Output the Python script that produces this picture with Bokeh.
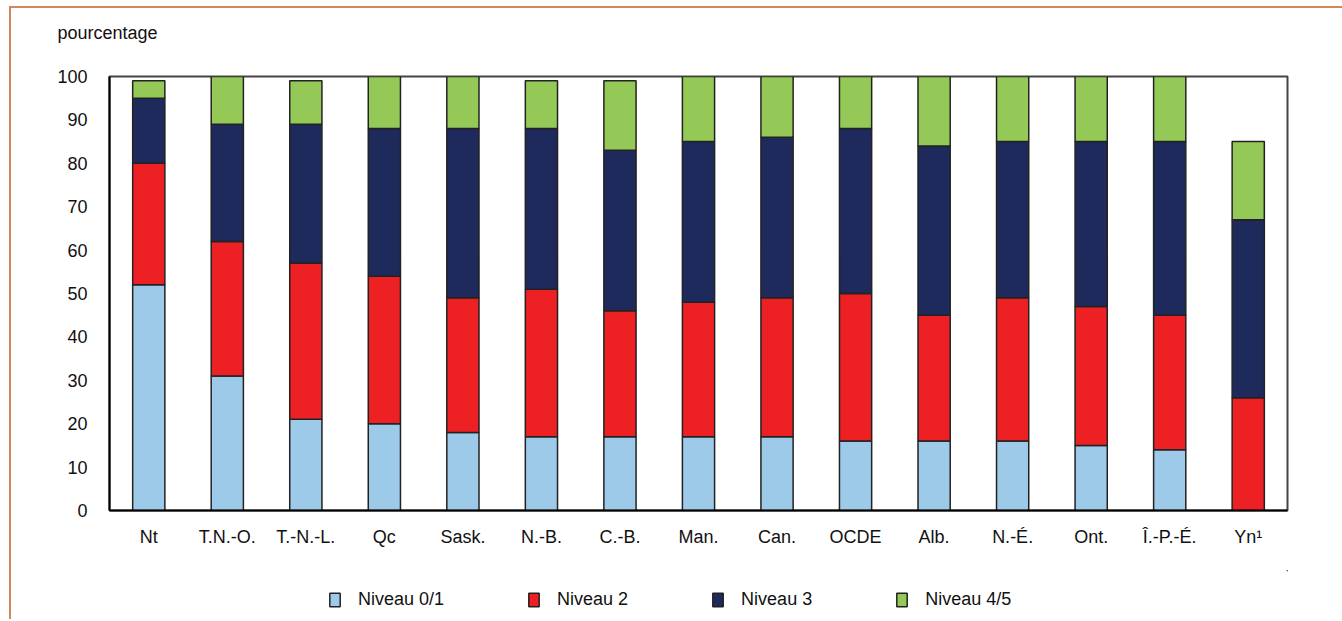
from bokeh.plotting import figure
from bokeh.models import ColumnDataSource, Legend, LegendItem, FactorRange, Range1d, Title
from bokeh.layouts import column
from bokeh.embed import file_html
from bokeh.resources import INLINE

categories = ["Nt", "T.N.-O.", "T.-N.-L.", "Qc", "Sask.", "N.-B.", "C.-B.", "Man.",
              "Can.", "OCDE", "Alb.", "N.-É.", "Ont.", "Î.-P.-É.", "Yn¹"]
niveau_0_1 = [52, 31, 21, 20, 18, 17, 17, 17, 17, 16, 16, 16, 15, 14, 0]
niveau_2 = [28, 31, 36, 34, 31, 34, 29, 31, 32, 34, 29, 33, 32, 31, 26]
niveau_3 = [15, 27, 32, 34, 39, 37, 37, 37, 37, 38, 39, 36, 38, 40, 41]
niveau_4_5 = [4, 11, 10, 12, 12, 11, 16, 15, 14, 12, 16, 15, 15, 15, 18]

series = ["n01", "n2", "n3", "n45"]
labels = ["Niveau 0/1", "Niveau 2", "Niveau 3", "Niveau 4/5"]
colors = ["#9ECAE9", "#ED2024", "#1F2A5C", "#94C957"]

FONT = "Liberation Sans"
W = 1331

source = ColumnDataSource(dict(cat=categories, n01=niveau_0_1, n2=niveau_2,
                               n3=niveau_3, n45=niveau_4_5))

p = figure(x_range=FactorRange(*categories, range_padding=0), y_range=(0, 100),
           width=W, height=562, output_backend="svg", toolbar_location=None,
           min_border_left=98, min_border_right=55, min_border_top=68,
           min_border_bottom=60, title="pourcentage")

p.vbar_stack(series, x="cat", width=0.41, source=source, color=colors,
             line_color="#222222", line_width=1.5)

p.title.text_font = FONT
p.title.text_font_size = "18px"
p.title.text_font_style = "normal"
p.title.text_color = "#111111"
p.title.align = "left"
p.title.vertical_align = "top"
p.title.offset = -52
p.title.standoff = 0

# empty spacer between the title and the frame
p.add_layout(Title(text=" ", text_font_size="1px", standoff=29), "above")

p.xgrid.grid_line_color = None
p.ygrid.grid_line_color = None
p.outline_line_color = "#444444"
p.outline_line_width = 2

for ax in (p.xaxis[0], p.yaxis[0]):
    ax.axis_line_color = "black"
    ax.axis_line_width = 2
    ax.major_tick_line_color = None
    ax.minor_tick_line_color = None
    ax.major_label_text_font = FONT
    ax.major_label_text_font_size = "18px"
    ax.major_label_text_color = "#111111"

p.xaxis.major_label_standoff = 10
p.yaxis.major_label_standoff = 16
p.yaxis.ticker = list(range(0, 101, 10))

# legend strip below the chart (swatch renderers sit outside the strip's ranges)
lg = figure(width=W, height=49, output_backend="svg", toolbar_location=None,
            x_range=Range1d(0, 1), y_range=Range1d(0, 1),
            x_axis_location=None, y_axis_location=None,
            min_border_left=0, min_border_right=0, min_border_top=0, min_border_bottom=0)
lg.grid.visible = False
lg.outline_line_color = None
swatches = [lg.vbar(x=[50], top=[60], bottom=[50], width=0.1, fill_color=c,
                    line_color="#222222", line_width=1.5) for c in colors]
legend = Legend(items=[LegendItem(label=l, renderers=[r]) for l, r in zip(labels, swatches)],
                orientation="horizontal", location=(219, 9),
                glyph_width=13, glyph_height=17, label_standoff=17, spacing=83,
                margin=0, padding=0,
                label_text_font=FONT, label_text_font_size="18px",
                label_text_color="#111111",
                border_line_alpha=0, background_fill_alpha=0)
lg.add_layout(legend, "center")

layout = column(p, lg, spacing=0)
layout.styles = {"border-left": "2px solid #D08A5A", "border-top": "2px solid #D08A5A",
                 "margin-left": "9px", "margin-top": "6px"}

open("out.html", "w").write(file_html(layout, INLINE))
